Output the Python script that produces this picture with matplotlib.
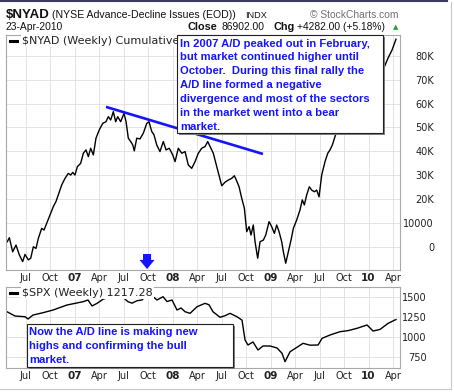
"""NYSE cumulative advance-decline line vs S&P 500, weekly, StockCharts style."""

import matplotlib
matplotlib.use("Agg")
import matplotlib.pyplot as plt
import matplotlib.transforms as mtransforms
from matplotlib.lines import Line2D
from matplotlib.patches import Polygon, Rectangle

W, H = 454, 392
BLUE = "#1414ff"

# $NYAD weekly close, x in decimal years, y in thousands
nyad_t = [
    2006.314, 2006.335, 2006.369, 2006.403, 2006.437, 2006.471, 2006.495, 2006.529,
    2006.553, 2006.580, 2006.607, 2006.631, 2006.665, 2006.689, 2006.716, 2006.750,
    2006.784, 2006.811, 2006.835, 2006.869, 2006.903, 2006.937, 2006.961, 2006.982,
    2007.005, 2007.029, 2007.063, 2007.090, 2007.117, 2007.141, 2007.165, 2007.192,
    2007.219, 2007.253, 2007.288, 2007.321, 2007.345, 2007.369, 2007.396, 2007.420,
    2007.441, 2007.471, 2007.505, 2007.526, 2007.549, 2007.573, 2007.594, 2007.610,
    2007.635, 2007.668, 2007.702, 2007.737, 2007.760, 2007.788, 2007.811, 2007.839,
    2007.872, 2007.906, 2007.934, 2007.967,
    2008.002, 2008.026, 2008.059, 2008.094, 2008.128, 2008.161, 2008.196, 2008.230,
    2008.263, 2008.298, 2008.332, 2008.359, 2008.383, 2008.416, 2008.451, 2008.474,
    2008.502, 2008.536, 2008.569, 2008.604, 2008.631, 2008.655, 2008.679, 2008.706,
    2008.733, 2008.757, 2008.781, 2008.801, 2008.824, 2008.842, 2008.869, 2008.893,
    2008.927, 2008.951, 2008.985,
    2009.012, 2009.039, 2009.063, 2009.087, 2009.114, 2009.131, 2009.155, 2009.182,
    2009.209, 2009.233, 2009.267, 2009.301, 2009.324, 2009.345, 2009.369, 2009.396,
    2009.420, 2009.447, 2009.471, 2009.495, 2009.522, 2009.556, 2009.584, 2009.607,
    2009.631, 2009.658, 2009.676, 2009.709, 2009.750, 2009.791, 2009.832, 2009.872,
    2009.913, 2009.954, 2009.995,
    2010.036, 2010.077, 2010.117, 2010.158, 2010.199, 2010.240, 2010.280,
]
nyad_k = [
    2.2, 3.9, -2.0, 0.8, -3.3, -6.1, -3.1, -5.4,
    -4.7, 0.1, -0.6, 3.6, 7.8, 7.1, 9.9, 13.4,
    16.9, 19.0, 21.8, 25.9, 28.7, 30.8, 30.1, 31.2,
    30.1, 33.6, 35.0, 39.2, 40.6, 37.8, 41.3, 38.5,
    45.5, 49.0, 51.7, 52.4, 54.5, 53.1, 56.6, 52.4,
    54.5, 52.4, 55.9, 52.4, 45.5, 44.1, 42.7, 40.2,
    45.5, 45.2, 47.6, 51.7, 52.4, 48.3, 46.9, 42.7,
    39.9, 44.1, 40.6, 41.3,
    38.5, 35.7, 41.3, 39.2, 39.9, 34.3, 32.9, 35.7,
    39.2, 41.3, 42.0, 44.1, 42.0, 39.2, 33.6, 30.1,
    25.6, 27.1, 28.0, 28.7, 29.8, 27.6, 25.2, 20.4,
    16.2, 6.4, 8.5, 5.0, 9.2, 2.2, -4.7, 2.2,
    2.9, 5.0, 10.6,
    8.5, 5.7, 9.2, 6.4, 2.2, -2.0, -6.8, -2.0,
    2.9, 7.8, 11.3, 15.5, 19.7, 17.6, 21.8, 25.2,
    23.8, 23.1, 23.8, 21.0, 30.1, 35.7, 39.2, 40.6,
    42.7, 46.2, 48.3, 50.0, 53.0, 56.0, 59.0, 61.0,
    64.0, 62.0, 66.0,
    69.0, 67.0, 71.0, 75.0, 79.0, 82.4, 86.9,
]

# $SPX weekly close
spx_t = [
    2006.311, 2006.393, 2006.495, 2006.526, 2006.577, 2006.679, 2006.781, 2006.923,
    2007.087, 2007.138, 2007.179, 2007.230, 2007.291, 2007.362, 2007.444, 2007.505,
    2007.546, 2007.587, 2007.638, 2007.689, 2007.740, 2007.801, 2007.842, 2007.903,
    2007.944, 2007.995, 2008.046, 2008.087, 2008.128, 2008.179, 2008.250, 2008.332,
    2008.372, 2008.413, 2008.485, 2008.536, 2008.587, 2008.658, 2008.709, 2008.740,
    2008.770, 2008.821, 2008.872, 2008.923, 2008.995, 2009.066, 2009.117, 2009.148,
    2009.199, 2009.270, 2009.332, 2009.403, 2009.485, 2009.526, 2009.607, 2009.709,
    2009.791, 2009.883, 2009.985, 2010.046, 2010.117, 2010.199, 2010.270, 2010.280,
]
spx_v = [
    1314, 1261, 1252, 1224, 1273, 1302, 1335, 1397,
    1438, 1459, 1385, 1418, 1468, 1500, 1520, 1480,
    1438, 1420, 1450, 1460, 1530, 1500, 1459, 1500,
    1440, 1459, 1335, 1360, 1314, 1294, 1376, 1418,
    1400, 1314, 1245, 1265, 1294, 1252, 1210, 964,
    902, 940, 840, 890, 890, 865, 800, 696,
    819, 874, 923, 900, 902, 985, 1026, 1067,
    1080, 1109, 1150, 1075, 1095, 1170, 1212, 1217,
]

# hand-drawn divergence line and the marker arrow
trend_t = [2007.321, 2008.923]
trend_k = [58.6, 38.9]
arrow_t = 2007.74

quarter_t = [2006.5, 2006.75, 2007.0, 2007.25, 2007.5, 2007.75, 2008.0, 2008.25,
             2008.5, 2008.75, 2009.0, 2009.25, 2009.5, 2009.75, 2010.0, 2010.25]
quarter_lbl = ["Jul", "Oct", "07", "Apr", "Jul", "Oct", "08", "Apr",
               "Jul", "Oct", "09", "Apr", "Jul", "Oct", "10", "Apr"]
nyad_ticks = [0, 10, 20, 30, 40, 50, 60, 70, 80]
nyad_tick_lbl = ["0", "10000", "20K", "30K", "40K", "50K", "60K", "70K", "80K"]
spx_ticks = [750, 1000, 1250, 1500]

box1_lines = [
    "In 2007 A/D peaked out in February,",
    "but market continued higher until",
    "October.  During this final rally the",
    "A/D line formed a negative",
    "divergence and most of the sectors",
    "in the market went into a bear",
    "market.",
]
box2_lines = [
    "Now the A/D line is making new",
    "highs and confirming the bull",
    "market.",
]


def fx(px):
    return px / W


def fy(py):
    return 1 - py / H


def style_axes(ax, pad):
    ax.set_facecolor("white")
    for s in ax.spines.values():
        s.set_color("#a8a8a8")
        s.set_linewidth(0.8)
    ax.grid(True, color="#dedede", linewidth=0.6)
    ax.set_axisbelow(True)
    ax.set_xlim(2006.301, 2010.321)
    ax.set_xticks(quarter_t)
    ax.set_xticklabels(quarter_lbl)
    ax.yaxis.tick_right()
    ax.tick_params(length=0, labelsize=7, colors="#222222")
    ax.tick_params(axis="x", pad=2.5)
    ax.tick_params(axis="y", pad=pad)
    for lbl in ax.get_xticklabels():
        if lbl.get_text().isdigit():
            lbl.set_fontweight("bold")
            lbl.set_fontsize(7.5)
    for lbl in ax.get_yticklabels():
        lbl.set_horizontalalignment("right")


def draw_box(x0, y0, x1, y1, lines, tx, base0):
    fig.add_artist(Rectangle((fx(x0 + 2), fy(y1 + 2)), fx(x1 - x0), fy(y0) - fy(y1),
                             transform=fig.transFigure, facecolor="#808080",
                             edgecolor="none", zorder=5))
    fig.add_artist(Rectangle((fx(x0), fy(y1)), fx(x1 - x0), fy(y0) - fy(y1),
                             transform=fig.transFigure, facecolor="white",
                             edgecolor="#202020", linewidth=0.8, zorder=6))
    for i, line in enumerate(lines):
        fig.text(fx(tx), fy(base0 + i * 13.8), line, color=BLUE, fontsize=8.1,
                 fontweight="bold", family="Liberation Sans", va="baseline",
                 zorder=7)


fig = plt.figure(figsize=(W / 100, H / 100), dpi=100)
fig.patch.set_facecolor("white")

ax1 = fig.add_axes([fx(6), fy(270), fx(400) - fx(6), fy(35) - fy(270)])
ax2 = fig.add_axes([fx(6), fy(368), fx(400) - fx(6), fy(287) - fy(368)])

ax1.plot(nyad_t, nyad_k, color="black", linewidth=1.0)
ax1.plot(trend_t, trend_k, color=BLUE, linewidth=1.9, solid_capstyle="butt")
ax1.set_ylim(-9.62, 88.66)
ax1.set_yticks(nyad_ticks)
ax1.set_yticklabels(nyad_tick_lbl)
style_axes(ax1, 24.5)

blend = mtransforms.blended_transform_factory(ax1.transData, ax1.transAxes)
arrow = Polygon([(arrow_t - 0.041, 0.068), (arrow_t + 0.041, 0.068),
                 (arrow_t + 0.041, 0.043), (arrow_t + 0.077, 0.043),
                 (arrow_t, 0.004), (arrow_t - 0.077, 0.043),
                 (arrow_t - 0.041, 0.043)],
                closed=True, transform=blend, facecolor=BLUE, edgecolor="none",
                clip_on=False, zorder=4)
ax1.add_patch(arrow)

ax2.plot(spx_t, spx_v, color="black", linewidth=1.0)
ax2.set_ylim(617.6, 1620)
ax2.set_yticks(spx_ticks)
style_axes(ax2, 19.4)

# series labels in the upper-left corner of each panel
ax1.plot([0.0102, 0.028], [0.9745, 0.9745], transform=ax1.transAxes,
         color="black", linewidth=2.2, clip_on=False, zorder=4)
ax1.text(0.0406, 0.9745, r"\$NYAD (Weekly) Cumulative", transform=ax1.transAxes,
         fontsize=8.0, va="center", ha="left", color="#222222", zorder=4,
         bbox=dict(facecolor="white", edgecolor="none", pad=0.6))
ax2.plot([0.0102, 0.028], [0.926, 0.926], transform=ax2.transAxes,
         color="black", linewidth=2.2, clip_on=False, zorder=4)
ax2.text(0.0406, 0.926, r"\$SPX (Weekly) 1217.28", transform=ax2.transAxes,
         fontsize=8.0, va="center", ha="left", color="#222222", zorder=4,
         bbox=dict(facecolor="white", edgecolor="none", pad=0.6))

draw_box(177, 35, 383, 133, box1_lines, 180, 46.7)
draw_box(27, 324, 233, 367, box2_lines, 29, 335.3)

# header
hdr = dict(family="Liberation Sans", va="baseline", color="#111111")
fig.text(fx(6), fy(18), r"\$NYAD", fontsize=9.5, fontweight="bold", **hdr)
fig.text(fx(52), fy(18), "(NYSE Advance-Decline Issues (EOD))", fontsize=7.6, **hdr)
fig.text(fx(245), fy(18), "INDX", fontsize=6.6, **hdr)
fig.text(fx(310), fy(18), "\u00a9 StockCharts.com", fontsize=7.4,
         family="Liberation Sans", va="baseline", color="#707070")
fig.text(fx(6), fy(30), "23-Apr-2010", fontsize=7.4, **hdr)
fig.text(fx(188), fy(30), "Close", fontsize=7.8, fontweight="bold", **hdr)
fig.text(fx(222), fy(30), "86902.00", fontsize=7.4, **hdr)
fig.text(fx(273), fy(30), "Chg", fontsize=7.8, fontweight="bold", **hdr)
fig.text(fx(297), fy(30), "+4282.00 (+5.18%)", fontsize=7.4, **hdr)
fig.text(fx(393), fy(29), "\u25b2", fontsize=5, color="#2e9e2e", va="baseline")

# outer frame
fig.add_artist(Line2D([0, fx(447)], [fy(0.8), fy(0.8)], color="#3c3c5c", linewidth=1.5))
fig.add_artist(Line2D([fx(451), fx(451)], [fy(2), fy(389)], color="#c8c8c8", linewidth=0.8))
fig.add_artist(Line2D([0, fx(451)], [fy(389), fy(389)], color="#c8c8c8", linewidth=0.8))

fig.savefig("out.png", dpi=100, facecolor="white")
plt.close(fig)
